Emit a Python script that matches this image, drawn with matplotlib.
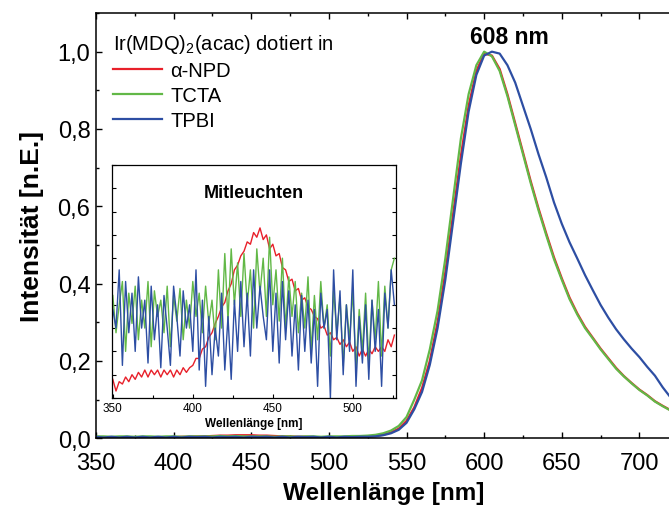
import numpy as np
import matplotlib.pyplot as plt
from matplotlib.ticker import MultipleLocator, FuncFormatter

plt.rcParams['font.family'] = ['Liberation Sans', 'DejaVu Sans']
plt.rcParams['mathtext.fontset'] = 'custom'
plt.rcParams['mathtext.rm'] = 'Liberation Sans'
plt.rcParams['mathtext.it'] = 'Liberation Sans:italic'

# Hauptspektren, 5-nm-Raster 350..720 nm
wl = np.arange(350, 721, 5)

npd = [0.003, 0.003, 0.003, 0.003, 0.003, 0.003, 0.003, 0.003, 0.003, 0.003,
       0.003, 0.004, 0.004, 0.005, 0.005, 0.006, 0.007, 0.007, 0.008, 0.008,
       0.008, 0.007, 0.007, 0.006, 0.005, 0.005, 0.004, 0.004, 0.003, 0.003,
       0.003, 0.003, 0.003, 0.004, 0.004, 0.005,
       0.006, 0.009, 0.015, 0.025, 0.045, 0.080, 0.130, 0.200, 0.300, 0.430,
       0.580, 0.730, 0.860, 0.950, 0.995, 0.990, 0.955, 0.890, 0.815, 0.740,
       0.665, 0.595, 0.530, 0.468, 0.414, 0.364, 0.323, 0.288, 0.260, 0.232,
       0.207, 0.182, 0.161, 0.143, 0.126, 0.112, 0.096, 0.084, 0.073]

tcta = [0.005, 0.005, 0.004, 0.005, 0.005, 0.004, 0.005, 0.005, 0.004, 0.005,
        0.005, 0.004, 0.005, 0.005, 0.005, 0.005, 0.006, 0.005, 0.006, 0.005,
        0.005, 0.005, 0.005, 0.004, 0.005, 0.005, 0.004, 0.005, 0.005, 0.004,
        0.005, 0.005, 0.005, 0.006, 0.006, 0.007,
        0.009, 0.013, 0.020, 0.032, 0.055, 0.100, 0.150, 0.230, 0.330, 0.465,
        0.620, 0.775, 0.890, 0.965, 1.000, 0.988, 0.950, 0.885, 0.810, 0.735,
        0.660, 0.590, 0.525, 0.463, 0.410, 0.360, 0.320, 0.285, 0.258, 0.230,
        0.205, 0.180, 0.160, 0.142, 0.125, 0.111, 0.095, 0.083, 0.072]

tpbi = [0.004, 0.002, 0.004, 0.002, 0.004, 0.002, 0.004, 0.002, 0.004, 0.002,
        0.004, 0.002, 0.004, 0.003, 0.004, 0.002, 0.004, 0.003, 0.004, 0.002,
        0.004, 0.003, 0.004, 0.002, 0.004, 0.002, 0.004, 0.003, 0.004, 0.002,
        0.004, 0.002, 0.004, 0.003, 0.004, 0.004,
        0.005, 0.008, 0.013, 0.022, 0.040, 0.075, 0.120, 0.190, 0.285, 0.410,
        0.560, 0.710, 0.845, 0.940, 0.990, 1.000, 0.995, 0.965, 0.920, 0.860,
        0.800, 0.735, 0.675, 0.610, 0.555, 0.507, 0.465, 0.422, 0.383, 0.345,
        0.312, 0.282, 0.256, 0.232, 0.210, 0.185, 0.162, 0.132, 0.106]

# Inset "Mitleuchten", 2-nm-Raster 350..526 nm (willkuerliche Einheiten)
wl_in = np.arange(350, 527, 2)

npd_in = [0.08, 0.03, 0.07, 0.06, 0.09, 0.07, 0.10, 0.08, 0.11, 0.09,
          0.12, 0.09, 0.12, 0.10, 0.12, 0.09, 0.12, 0.10, 0.12, 0.09,
          0.12, 0.10, 0.13, 0.11, 0.13, 0.14, 0.17, 0.17, 0.21, 0.22,
          0.26, 0.28, 0.32, 0.35, 0.39, 0.41, 0.46, 0.49, 0.55, 0.57,
          0.61, 0.63, 0.67, 0.66, 0.71, 0.69, 0.73, 0.68, 0.70, 0.64,
          0.66, 0.61, 0.62, 0.56, 0.55, 0.50, 0.51, 0.46, 0.47, 0.42,
          0.43, 0.39, 0.38, 0.35, 0.34, 0.30, 0.31, 0.27, 0.28, 0.25,
          0.26, 0.23, 0.25, 0.22, 0.24, 0.20, 0.22, 0.18, 0.21, 0.18,
          0.21, 0.19, 0.22, 0.20, 0.22, 0.20, 0.25, 0.22, 0.27]

tcta_in = [0.44, 0.28, 0.40, 0.50, 0.20, 0.45, 0.32, 0.48, 0.25, 0.42,
           0.30, 0.50, 0.22, 0.46, 0.35, 0.42, 0.28, 0.48, 0.22, 0.44,
           0.33, 0.47, 0.25, 0.42, 0.30, 0.50, 0.35, 0.45, 0.28, 0.48,
           0.32, 0.42, 0.25, 0.55, 0.30, 0.62, 0.33, 0.64, 0.40, 0.58,
           0.35, 0.62, 0.40, 0.55, 0.30, 0.64, 0.45, 0.60, 0.35, 0.69,
           0.40, 0.55, 0.33, 0.60, 0.30, 0.52, 0.35, 0.50, 0.28, 0.45,
           0.30, 0.52, 0.20, 0.44, 0.25, 0.50, 0.30, 0.40, 0.18, 0.46,
           0.28, 0.43, 0.14, 0.40, 0.25, 0.46, 0.12, 0.38, 0.20, 0.45,
           0.15, 0.42, 0.25, 0.50, 0.18, 0.48, 0.30, 0.55, 0.60]

tpbi_in = [0.38, 0.30, 0.55, 0.14, 0.50, 0.28, 0.45, 0.20, 0.52, 0.30,
           0.42, 0.15, 0.48, 0.25, 0.40, 0.13, 0.44, 0.30, 0.14, 0.48,
           0.35, 0.18, 0.46, 0.30, 0.40, 0.20, 0.55, 0.12, 0.42, 0.05,
           0.35, 0.10, 0.30, 0.18, 0.45, 0.12, 0.35, 0.08, 0.42, 0.20,
           0.50, 0.22, 0.45, 0.18, 0.55, 0.30, 0.48, 0.35, 0.25, 0.55,
           0.20, 0.45, 0.15, 0.50, 0.25, 0.46, 0.18, 0.40, 0.12, 0.44,
           0.20, 0.42, 0.15, 0.38, 0.05, 0.45, 0.30, 0.38, 0.00, 0.55,
           0.25, 0.46, 0.10, 0.40, 0.20, 0.55, 0.05, 0.35, 0.15, 0.40,
           0.08, 0.42, 0.20, 0.38, 0.05, 0.45, 0.30, 0.55, 0.40]

labels = ['\u03b1-NPD', 'TCTA', 'TPBI']
colors = ['#e8202a', '#62b847', '#2d4ea3']

fig = plt.figure(figsize=(6.69, 5.06), dpi=100)
ax = fig.add_axes([96 / 669, (506 - 439.3) / 506, (672 - 96) / 669, (439.3 - 14) / 506])

for y, lab, c in zip([npd, tcta, tpbi], labels, colors):
    ax.plot(wl, y, color=c, lw=1.6, label=lab)

ax.set_xlim(350, 721)
ax.set_ylim(0, 1.1)
ax.xaxis.set_major_locator(MultipleLocator(50))
ax.xaxis.set_minor_locator(MultipleLocator(25))
ax.yaxis.set_major_locator(MultipleLocator(0.2))
ax.yaxis.set_minor_locator(MultipleLocator(0.1))
ax.yaxis.set_major_formatter(FuncFormatter(lambda v, p: f'{v:.1f}'.replace('.', ',')))
ax.tick_params(which='both', direction='in', top=True, right=False, width=1.0)
ax.tick_params(which='major', length=4.5, labelsize=17)
ax.tick_params(which='minor', length=2.5)
ax.tick_params(axis='x', pad=10)
ax.tick_params(axis='y', pad=4)
for s in ax.spines.values():
    s.set_linewidth(1.1)

ax.set_xlabel('Wellenlänge [nm]', fontsize=17.5, fontweight='bold', labelpad=5)
ax.set_ylabel('Intensität [n.E.]', fontsize=19, fontweight='bold', labelpad=10)

leg = ax.legend(title='Ir(MDQ)$_2$(acac) dotiert in', loc='upper left',
                bbox_to_anchor=(0.005, 0.988), frameon=False, fontsize=14.5,
                title_fontsize=14.5, alignment='left', handlelength=2.45,
                handletextpad=0.4, labelspacing=0.3, borderaxespad=0.3)

ax.text(616, 1.04, '608 nm', fontsize=16.5, fontweight='bold', ha='center', va='center')

# Inset
axi = fig.add_axes([112 / 669, (506 - 399) / 506, 284 / 669, 233 / 506])
for y, c in zip([npd_in, tcta_in, tpbi_in], colors):
    axi.plot(wl_in, y, color=c, lw=1.0)
axi.set_xlim(349.5, 527)
axi.set_ylim(0, 1)
axi.xaxis.set_major_locator(MultipleLocator(50))
axi.xaxis.set_minor_locator(MultipleLocator(25))
axi.yaxis.set_major_locator(MultipleLocator(0.1))
axi.set_yticklabels([])
axi.tick_params(which='both', direction='in', right=True, top=False, width=0.8)
axi.tick_params(which='major', length=3, labelsize=8.5, pad=3)
axi.tick_params(which='minor', length=2)
for s in axi.spines.values():
    s.set_linewidth(0.9)
axi.set_xlabel('Wellenlänge [nm]', fontsize=8.5, fontweight='bold', labelpad=2)
axi.text(0.5, 0.88, 'Mitleuchten', transform=axi.transAxes, fontsize=13,
         fontweight='bold', ha='center', va='center')

fig.savefig('out.png', dpi=100)
